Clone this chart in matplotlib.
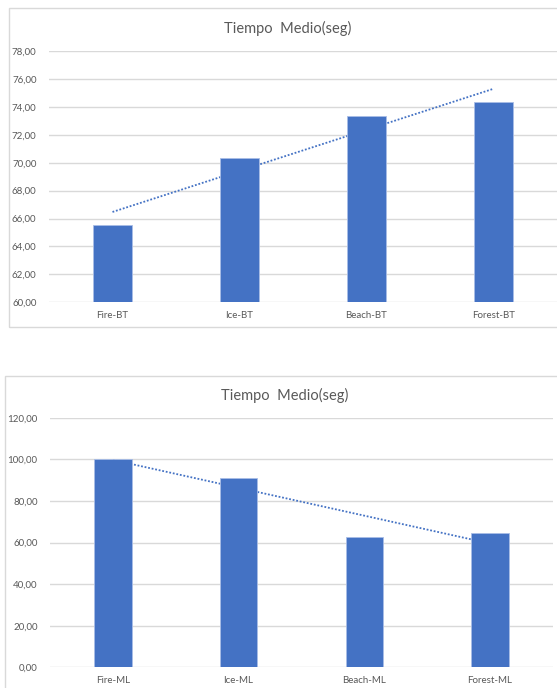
import numpy as np
import matplotlib
matplotlib.use("Agg")
import matplotlib.pyplot as plt
from matplotlib.patches import Rectangle
from matplotlib.ticker import FuncFormatter, MultipleLocator

# ---- data ----
title = "Tiempo  Medio(seg)"
cats_bt = ["Fire-BT", "Ice-BT", "Beach-BT", "Forest-BT"]
vals_bt = [65.55, 70.31, 73.32, 74.35]
cats_ml = ["Fire-ML", "Ice-ML", "Beach-ML", "Forest-ML"]
vals_ml = [100.0, 90.9, 62.8, 64.7]

BAR = "#4472C4"
GRID = "#D9D9D9"
TXT = "#595959"
FONT = ["Lato", "DejaVu Sans"]

W, H = 557, 688
fig = plt.figure(figsize=(W / 100, H / 100), dpi=100)
fig.patch.set_facecolor("white")


def px_axes(x0, y_top, x1, y_bot):
    return fig.add_axes([x0 / W, 1 - y_bot / H, (x1 - x0) / W, (y_bot - y_top) / H])


def frame(x0, y0, x1, y1):
    fig.patches.append(Rectangle((x0 / W, 1 - y1 / H), (x1 - x0) / W, (y1 - y0) / H,
                                 transform=fig.transFigure, fill=False,
                                 edgecolor=GRID, linewidth=1.0))


def draw(ax, cats, vals, ylo, yhi, step):
    x = np.arange(len(cats))
    ax.bar(x, vals, width=0.3, color=BAR, edgecolor="#A9BDE6", linewidth=0.6, zorder=3)
    # linear trendline
    m, b = np.polyfit(x + 1, vals, 1)
    ax.plot(x, m * (x + 1) + b, linestyle=(0, (1, 1)), color=BAR, linewidth=1.3, zorder=2)
    ax.set_xlim(-0.5, len(cats) - 0.5)
    ax.set_ylim(ylo, yhi)
    ax.yaxis.set_major_locator(MultipleLocator(step))
    ax.yaxis.set_major_formatter(FuncFormatter(lambda v, p: f"{v:.2f}".replace(".", ",")))
    ax.set_xticks(x)
    ax.set_xticklabels(cats)
    for s in ax.spines.values():
        s.set_visible(False)
    ax.grid(axis="y", color=GRID, linewidth=1.0, zorder=0)
    ax.set_axisbelow(True)
    ax.tick_params(axis="both", length=0, labelsize=7, labelcolor=TXT)
    ax.tick_params(axis="y", pad=9)
    ax.tick_params(axis="x", pad=6)
    for lab in ax.get_xticklabels() + ax.get_yticklabels():
        lab.set_family(FONT)
    ax.set_facecolor("none")


# top chart
frame(9, 8, 570, 327)
ax1 = px_axes(49, 51, 557, 302.3)
draw(ax1, cats_bt, vals_bt, 60, 78, 2)
fig.text(288 / W, 1 - 28 / H, title, ha="center", va="center", fontsize=10.5,
         color=TXT, family=FONT)

# bottom chart
frame(5, 376, 566, 720)
ax2 = px_axes(50, 417.7, 553, 667.3)
draw(ax2, cats_ml, vals_ml, 0, 120, 20)
fig.text(285 / W, 1 - 395 / H, title, ha="center", va="center", fontsize=10.5,
         color=TXT, family=FONT)

fig.savefig("out.png", dpi=100, facecolor="white")
